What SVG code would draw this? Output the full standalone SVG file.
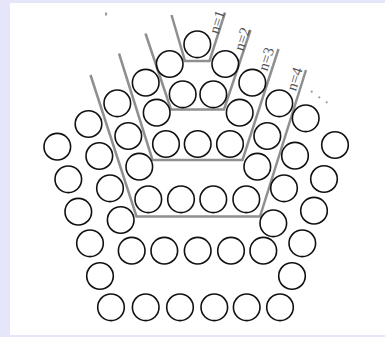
<svg xmlns="http://www.w3.org/2000/svg" width="385" height="337" viewBox="0 0 385 337">
<style>
.c{fill:none;stroke:#111;stroke-width:1.6}
.g{fill:none;stroke:#8f8f8f;stroke-width:2.5;stroke-linejoin:miter}
.t{font-family:"Liberation Serif","Times New Roman",serif;font-size:15px;fill:#555;text-anchor:middle;dominant-baseline:central}
.d{fill:#999}
</style>
<rect x="0" y="0" width="385" height="337" fill="#e6e6fa"/>
<rect x="10" y="3" width="375" height="332" fill="#fff"/>
<g id="connectors">
<polyline class="g" points="171.5,15 185,61 209.5,61 225,12.5"/>
<polyline class="g" points="145.5,33.5 171,109.5 224,109.5 250.5,30"/>
<polyline class="g" points="119,53.5 152.5,160 242.5,160 278.5,49"/>
<polyline class="g" points="90.5,75 136.5,216.5 260,216.5 306,70"/>
</g>
<g id="labels">
<text class="t" transform="translate(217,22) rotate(-72)">n=1</text>
<text class="t" transform="translate(242,39) rotate(-72)">n=2</text>
<text class="t" transform="translate(266,59) rotate(-72)">n=3</text>
<text class="t" transform="translate(294.5,79) rotate(-72)">n=4</text>
<circle class="d" cx="311.7" cy="91.7" r="1.1"/>
<circle class="d" cx="319.3" cy="97.3" r="1.1"/>
<circle class="d" cx="326.7" cy="102.3" r="1.1"/>
<rect class="d" x="105" y="12.5" width="2" height="3"/>
</g>
<g id="n1">
<circle class="c" cx="197.3" cy="44.3" r="13.3"/>
</g>
<g id="n2">
<circle class="c" cx="169.7" cy="64" r="13.3"/>
<circle class="c" cx="225.3" cy="64" r="13.3"/>
<circle class="c" cx="182.7" cy="94.3" r="13.3"/>
<circle class="c" cx="213.3" cy="94.3" r="13.3"/>
</g>
<g id="n3">
<circle class="c" cx="145.7" cy="82.7" r="13.3"/>
<circle class="c" cx="252.3" cy="82.7" r="13.3"/>
<circle class="c" cx="156.7" cy="112.7" r="13.3"/>
<circle class="c" cx="239.7" cy="112.7" r="13.3"/>
<circle class="c" cx="166" cy="144" r="13.3"/>
<circle class="c" cx="197.7" cy="144" r="13.3"/>
<circle class="c" cx="230" cy="144" r="13.3"/>
</g>
<g id="n4">
<circle class="c" cx="117.3" cy="103.3" r="13.3"/>
<circle class="c" cx="279.3" cy="103.3" r="13.3"/>
<circle class="c" cx="128.3" cy="136" r="13.3"/>
<circle class="c" cx="267.3" cy="136" r="13.3"/>
<circle class="c" cx="139.3" cy="166.7" r="13.3"/>
<circle class="c" cx="257.3" cy="166.7" r="13.3"/>
<circle class="c" cx="148.3" cy="199.3" r="13.3"/>
<circle class="c" cx="181" cy="199.3" r="13.3"/>
<circle class="c" cx="213.3" cy="199.3" r="13.3"/>
<circle class="c" cx="246.3" cy="199.3" r="13.3"/>
</g>
<g id="n5">
<circle class="c" cx="88.5" cy="124" r="13.3"/>
<circle class="c" cx="305.7" cy="118.3" r="13.3"/>
<circle class="c" cx="99.3" cy="156" r="13.3"/>
<circle class="c" cx="295" cy="155.7" r="13.3"/>
<circle class="c" cx="110" cy="188.3" r="13.3"/>
<circle class="c" cx="284" cy="188.3" r="13.3"/>
<circle class="c" cx="120.7" cy="220" r="13.3"/>
<circle class="c" cx="273.3" cy="223.3" r="13.3"/>
<circle class="c" cx="131.7" cy="250.7" r="13.3"/>
<circle class="c" cx="164.3" cy="250.7" r="13.3"/>
<circle class="c" cx="197.7" cy="250.7" r="13.3"/>
<circle class="c" cx="231" cy="250.7" r="13.3"/>
<circle class="c" cx="263.3" cy="250.7" r="13.3"/>
</g>
<g id="n6">
<circle class="c" cx="57.3" cy="146.7" r="13.3"/>
<circle class="c" cx="335" cy="145" r="13.3"/>
<circle class="c" cx="68.3" cy="179.3" r="13.3"/>
<circle class="c" cx="324" cy="179" r="13.3"/>
<circle class="c" cx="78.3" cy="211.7" r="13.3"/>
<circle class="c" cx="314" cy="210.7" r="13.3"/>
<circle class="c" cx="90" cy="243.3" r="13.3"/>
<circle class="c" cx="302.3" cy="243.3" r="13.3"/>
<circle class="c" cx="100" cy="276" r="13.3"/>
<circle class="c" cx="292" cy="276" r="13.3"/>
<circle class="c" cx="111" cy="307.3" r="13.3"/>
<circle class="c" cx="145.7" cy="307.3" r="13.3"/>
<circle class="c" cx="180" cy="307.3" r="13.3"/>
<circle class="c" cx="214.3" cy="307.3" r="13.3"/>
<circle class="c" cx="246.7" cy="307.3" r="13.3"/>
<circle class="c" cx="280" cy="307.3" r="13.3"/>
</g>
</svg>
